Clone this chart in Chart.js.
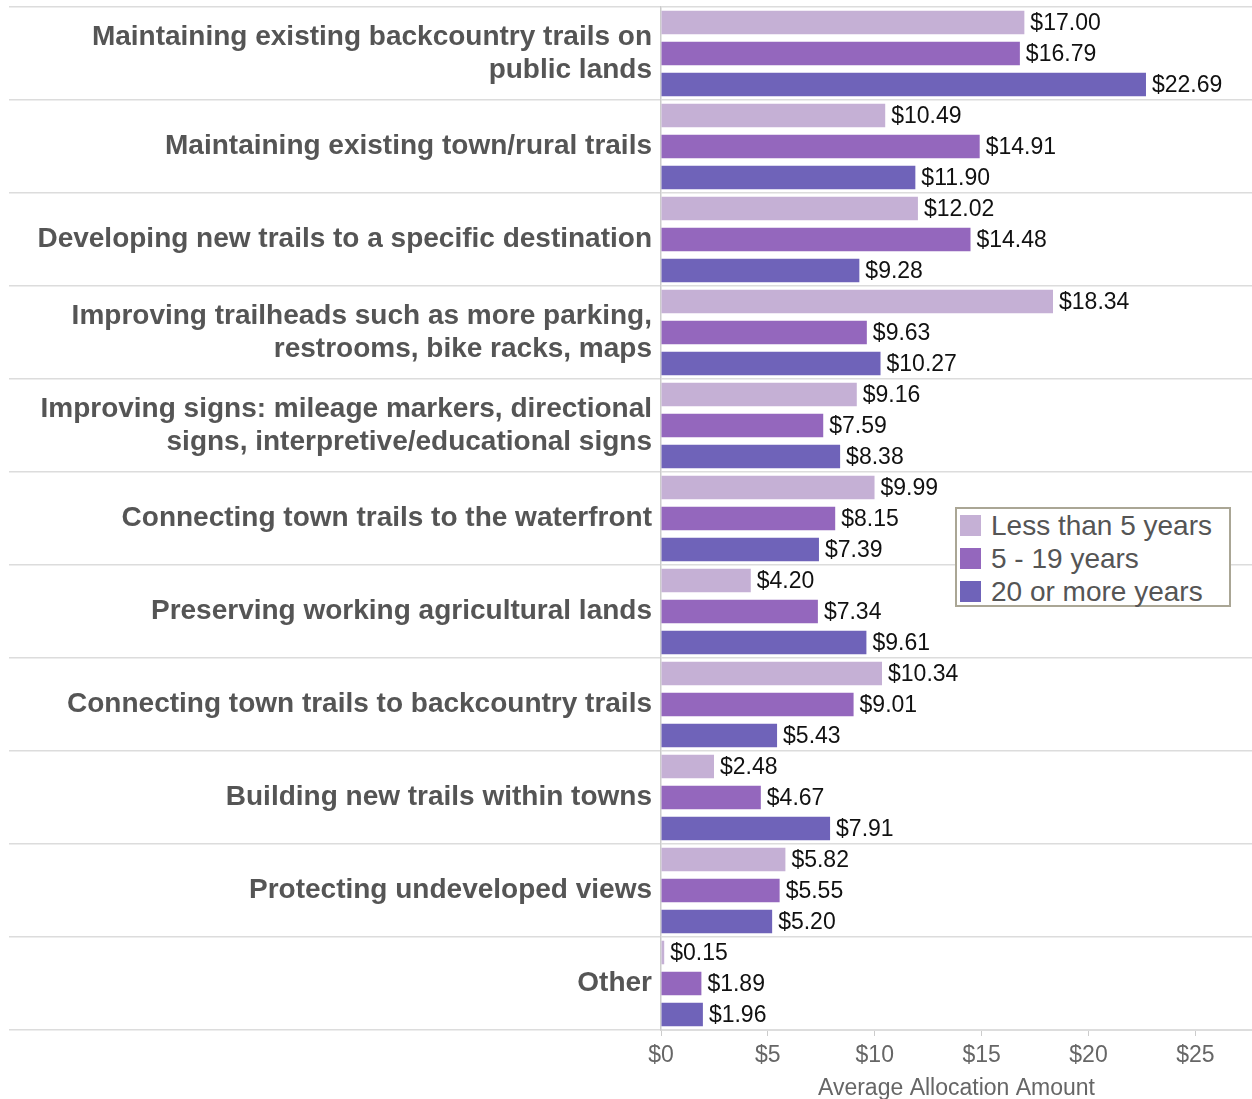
<!DOCTYPE html>
<html>
<head>
<meta charset="utf-8">
<script src="https://cdn.jsdelivr.net/npm/chart.js@4"></script>
<style>
  html, body { margin: 0; padding: 0; background: #fff; }
  #wrap { position: relative; width: 1252px; height: 1099px; }
  #legend {
    position: absolute; left: 955px; top: 507px; width: 272px; height: 96px;
    border: 2px solid #aaa695; background: #fff; box-sizing: content-box;
    font-family: "Liberation Sans", Arial, sans-serif; font-size: 28px; color: #555;
  }
  #legend .item { display: flex; align-items: center; height: 33px; margin-left: 3px; }
  #legend .sw { width: 21px; height: 21px; margin-right: 10px; }
</style>
</head>
<body>
<div id="wrap">
  <canvas id="c" width="1252" height="1099"></canvas>
  <div id="legend"></div>
</div>
<script>
const categories = [
  ["Maintaining existing backcountry trails on", "public lands"],
  "Maintaining existing town/rural trails",
  "Developing new trails to a specific destination",
  ["Improving trailheads such as more parking,", "restrooms, bike racks, maps"],
  ["Improving signs: mileage markers, directional", "signs, interpretive/educational signs"],
  "Connecting town trails to the waterfront",
  "Preserving working agricultural lands",
  "Connecting town trails to backcountry trails",
  "Building new trails within towns",
  "Protecting undeveloped views",
  "Other"
];
const seriesNames = ["Less than 5 years", "5 - 19 years", "20 or more years"];
const lessThan5 = [17.00, 10.49, 12.02, 18.34, 9.16, 9.99, 4.20, 10.34, 2.48, 5.82, 0.15];
const fiveTo19 = [16.79, 14.91, 14.48, 9.63, 7.59, 8.15, 7.34, 9.01, 4.67, 5.55, 1.89];
const twentyPlus = [22.69, 11.90, 9.28, 10.27, 8.38, 7.39, 9.61, 5.43, 7.91, 5.20, 1.96];
const xTickValues = [0, 5, 10, 15, 20, 25];
const colors = ["#c5b0d5", "#9467bd", "#6f63b9"];

const FONT = '"Liberation Sans", Arial, sans-serif';

const valueLabels = {
  id: 'valueLabels',
  afterDatasetsDraw(chart) {
    const ctx = chart.ctx;
    ctx.save();
    ctx.font = '23px ' + FONT;
    ctx.fillStyle = '#111';
    ctx.textAlign = 'left';
    ctx.textBaseline = 'middle';
    chart.data.datasets.forEach((ds, di) => {
      const meta = chart.getDatasetMeta(di);
      meta.data.forEach((bar, i) => {
        ctx.fillText('$' + ds.data[i].toFixed(2), bar.x + 6, bar.y + 1);
      });
    });
    ctx.restore();
  }
};

new Chart(document.getElementById('c'), {
  type: 'bar',
  data: {
    labels: categories,
    datasets: [
      { label: seriesNames[0], data: lessThan5, backgroundColor: colors[0] },
      { label: seriesNames[1], data: fiveTo19, backgroundColor: colors[1] },
      { label: seriesNames[2], data: twentyPlus, backgroundColor: colors[2] }
    ]
  },
  options: {
    indexAxis: 'y',
    responsive: false,
    animation: false,
    devicePixelRatio: 1,
    layout: { padding: { top: 7, right: 0, left: 0, bottom: 0 } },
    datasets: { bar: { categoryPercentage: 1.0, barPercentage: 0.76 } },
    plugins: { legend: { display: false }, tooltip: { enabled: false } },
    scales: {
      x: {
        type: 'linear',
        min: 0,
        max: 27.65,
        afterBuildTicks(scale) { scale.ticks = xTickValues.map(v => ({ value: v })); },
        ticks: {
          includeBounds: false,
          color: '#666',
          font: { family: FONT, size: 23 },
          padding: 6,
          callback: v => '$' + v
        },
        grid: { drawOnChartArea: false, drawTicks: true, tickLength: 6, color: '#ccc' },
        border: { display: true, color: '#ddd', width: 2 },
        title: {
          display: true, text: 'Average Allocation Amount', color: '#666',
          font: { family: FONT, size: 23 }, padding: { top: 6, bottom: -3 }
        },
        afterFit(scale) { scale.height = 69; }
      },
      y: {
        type: 'category',
        grid: { offset: true, color: '#dcdcdc', lineWidth: 1.5, tickLength: 652, drawOnChartArea: true },
        border: { display: true, color: '#ccc', width: 1.5 },
        ticks: {
          color: '#555',
          padding: -643,
          font: { family: FONT, size: 28, weight: 'bold', lineHeight: 1.18 }
        },
        afterFit(scale) { scale.width = 661; }
      }
    }
  },
  plugins: [valueLabels]
});

const leg = document.getElementById('legend');
seriesNames.forEach((name, i) => {
  const d = document.createElement('div');
  d.className = 'item';
  const sw = document.createElement('span');
  sw.className = 'sw';
  sw.style.background = colors[i];
  const t = document.createElement('span');
  t.textContent = name;
  d.appendChild(sw); d.appendChild(t);
  leg.appendChild(d);
});
</script>
</body>
</html>
